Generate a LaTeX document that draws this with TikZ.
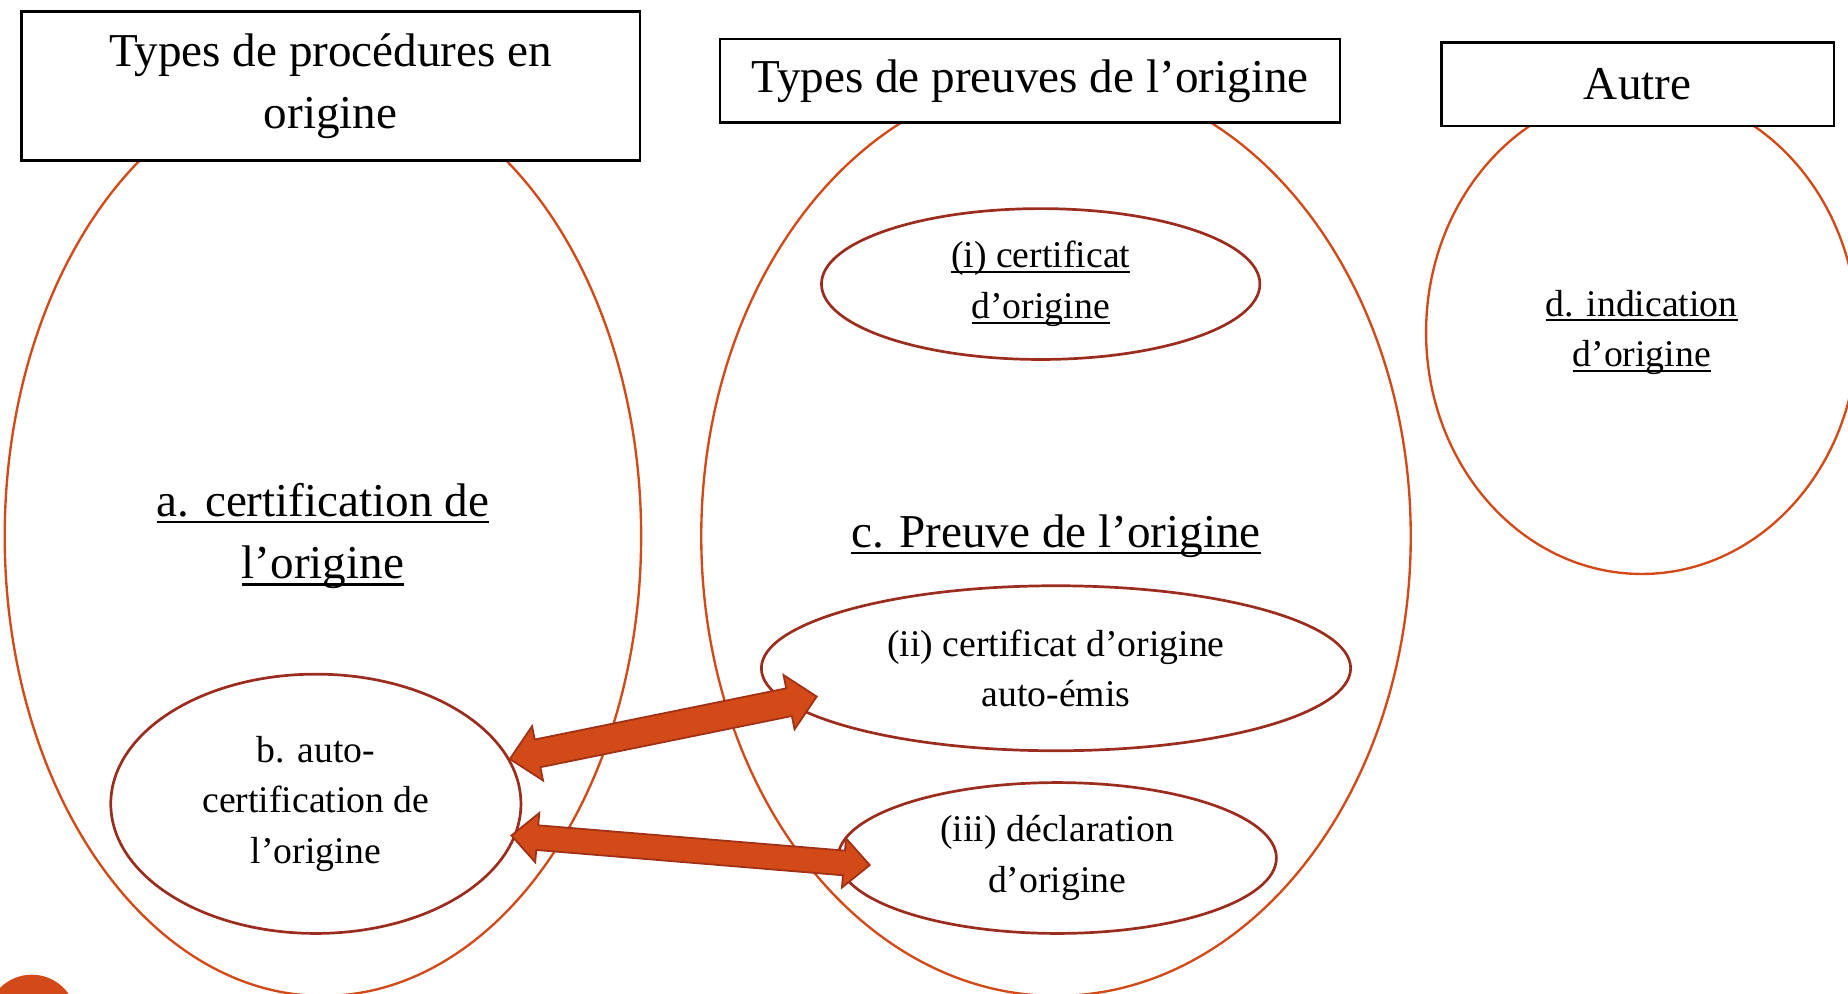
\documentclass[tikz,border=0pt]{standalone}
\usepackage{fontspec}
\setmainfont{Liberation Serif}
\usetikzlibrary{shapes.geometric,calc}
\definecolor{orng}{RGB}{210,74,24}
\definecolor{dred}{RGB}{155,45,31}
\definecolor{arfill}{RGB}{210,74,24}
\definecolor{arline}{RGB}{160,48,22}
\newcommand\myul[1]{\setbox0=\hbox{#1}\leavevmode\rlap{\rule[-0.14em]{\wd0}{0.055em}}\box0}
\newcommand\bigf{\fontsize{40}{53}\selectfont}
\newcommand\smallf{\fontsize{32}{43}\selectfont}
\newcommand\blockarrow[5]{%
  \filldraw[fill=arfill,draw=arline,line width=1.5pt,line join=miter]
   (#1) -- ($(#1)!#5!(#2)!#4!90:(#2)$) -- ($(#1)!#5!(#2)!#3!90:(#2)$)
   -- ($(#2)!#5!(#1)!#3!-90:(#1)$) -- ($(#2)!#5!(#1)!#4!-90:(#1)$)
   -- (#2) -- ($(#2)!#5!(#1)!#4!90:(#1)$) -- ($(#2)!#5!(#1)!#3!90:(#1)$)
   -- ($(#1)!#5!(#2)!#3!-90:(#2)$) -- ($(#1)!#5!(#2)!#4!-90:(#2)$) -- cycle;}
\begin{document}
\begin{tikzpicture}[x=1pt,y=-1pt,
  bigell/.style={ellipse,draw=orng,line width=2pt,inner sep=0pt,align=center},
  smell/.style={ellipse,draw=dred,line width=2.3pt,inner sep=0pt,align=center,font=\smallf},
  titlebox/.style={rectangle,draw=black,fill=white,line width=2.2pt,inner sep=0pt,align=center,font=\bigf}]
\useasboundingbox (0,0) rectangle (1568,843);
\clip (0,0) rectangle (1568,843);
% big ellipses
\node[bigell,font=\bigf,minimum width=540pt,minimum height=780pt] (A) at (274,455)
  {\myul{a. certification de}\\\myul{l’origine}};
\node[bigell,font=\bigf,minimum width=602pt,minimum height=780pt] (C) at (896,455)
  {\myul{c. Preuve de l’origine}};
\node[bigell,font=\smallf,minimum width=366pt,minimum height=410pt] (D) at (1393,282)
  {\myul{d. indication}\\\myul{d’origine}};
% title boxes
\node[titlebox,minimum width=525pt,minimum height=126pt] (t1) at (280.5,73)
  {\raisebox{-2pt}{Types de procédures en}\\\raisebox{-2pt}{origine}};
\node[titlebox,minimum width=526pt,minimum height=71pt] (t2) at (874,68.5)
  {\raisebox{-2pt}{Types de preuves de l’origine}};
\node[titlebox,minimum width=333pt,minimum height=71pt] (t3) at (1389.5,71.5)
  {Autre};
% small ellipses
\node[smell,minimum width=372pt,minimum height=128pt] (i) at (883,241)
  {\raisebox{-2pt}{\myul{(i) certificat}}\\\raisebox{-2pt}{\myul{d’origine}}};
\node[smell,minimum width=500pt,minimum height=140pt] (ii) at (896,567)
  {(ii) certificat d’origine\\auto-émis};
\node[smell,minimum width=372pt,minimum height=128pt] (iii) at (897,728)
  {\raisebox{-2pt}{(iii) déclaration}\\\raisebox{-2pt}{d’origine}};
\node[smell,minimum width=348pt,minimum height=220pt] (b) at (268,682)
  {\raisebox{-2pt}{b. auto-}\\\raisebox{-2pt}{certification de}\\\raisebox{-2pt}{l’origine}};
% corner disc
\fill[orng] (27,865) circle (38);
% arrows
\coordinate (a1s) at (b.13.5);
\coordinate (a1e) at (693,591);
\coordinate (a2s) at ($(b.-9.5)+(-4,0)$);
\coordinate (a2e) at (738,734);
\blockarrow{a1s}{a1e}{12pt}{23.5pt}{24pt}
\blockarrow{a2s}{a2e}{10.5pt}{21pt}{22pt}
\end{tikzpicture}
\end{document}
